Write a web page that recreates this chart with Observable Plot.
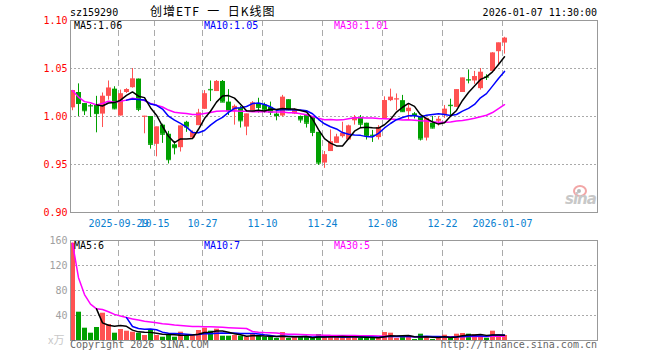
<!DOCTYPE html>
<html><head><meta charset="utf-8">
<script src="https://cdn.jsdelivr.net/npm/d3@7"></script>
<script src="https://cdn.jsdelivr.net/npm/@observablehq/plot@0.6"></script>
<style>
body{margin:0;background:#fff;}
#wrap{position:relative;width:660px;height:360px;overflow:hidden;background:#fff;}
.t{position:absolute;white-space:pre;font-family:"DejaVu Sans Mono",monospace;font-size:10px;line-height:10px;}
#main,#vol{position:absolute;left:0;}
#main{top:0}
#vol{top:230px}
</style></head><body>
<div id="wrap">
 <div id="main"></div><div id="vol"></div>
 <div class="t" style="left:70px;top:8px;color:#000">sz159290</div>
 <div class="t" style="left:150px;top:5px;font-family:'Noto Sans CJK SC';font-size:12px;line-height:12px;letter-spacing:1px;color:#000">创增ETF  一  日K线图</div>
 <div class="t" style="right:63px;top:7.5px;color:#000">2026-01-07 11:30:00</div>
 <div class="t" style="left:74px;top:21px;color:#000">MA5:1.06</div>
 <div class="t" style="left:204px;top:21px;color:#0000ff">MA10:1.05</div>
 <div class="t" style="left:334px;top:21px;color:#ff00ff">MA30:1.01</div>
 <div class="t" style="left:74px;top:240.5px;color:#000">MA5:6</div>
 <div class="t" style="left:204px;top:240.5px;color:#0000ff">MA10:7</div>
 <div class="t" style="left:334px;top:240.5px;color:#ff00ff">MA30:5</div>
 <div class="t" style="left:48px;top:334px;font-family:'Noto Sans CJK SC';font-size:11px;line-height:11px;color:#c8c8c8">x万</div>
 <div class="t" style="left:70px;top:339.5px;color:#666">Copyright 2026 SINA.COM</div>
 <div class="t" style="right:63px;top:339.5px;color:#666">http://finance.sina.com.cn</div>
 <div style="position:absolute;left:573px;top:185px;width:10px;height:8px;border:2px solid #f2a6a6;border-radius:50%;"></div>
 <div style="position:absolute;left:577px;top:189px;width:4px;height:4px;background:#bbb;border-radius:50%;"></div>
 <div class="t" style="left:565px;top:192px;font-family:'DejaVu Sans';font-style:italic;font-weight:bold;font-size:15px;line-height:15px;color:#c8c8c8;letter-spacing:-1px">sina</div>
</div>
<script>
// ---- data ----
const opens  = [1.009,1.025,1.0135,1.0115,1.0115,1.0025,1.021,1.0285,1.0005,1.025,
                1.030,1.039,1.000,1.000,0.971,0.991,0.9815,0.9705,0.9675,0.994,
                0.9775,0.9905,1.0075,1.0282,1.026,1.0365,1.015,1.0065,1.0085,0.989,
                1.006,1.013,1.012,1.0095,1.0025,1.0005,1.0175,1.0025,1.000,1.001,
                0.999,0.9835,0.9515,0.9635,0.972,0.979,0.9755,0.9955,0.999,0.993,
                0.9805,0.978,0.9975,1.0165,1.0177,1.0165,1.005,1.0028,1.000,0.9775,
                0.993,0.995,1.001,1.0117,1.0095,1.025,1.0385,1.037,1.029,1.0413,
                1.047,1.0675,1.0765];
const highs  = [1.027,1.034,1.0135,1.0125,1.021,1.0245,1.037,1.031,1.0275,1.029,
                1.050,1.039,1.0002,1.000,0.989,0.992,0.9845,0.974,0.990,0.995,
                0.985,1.0075,1.027,1.037,1.0375,1.0375,1.028,1.012,1.0105,1.0025,
                1.0155,1.019,1.014,1.015,1.005,1.022,1.0175,1.008,1.0005,1.001,
                0.999,0.9835,0.9635,0.986,0.9815,0.994,0.991,1.001,1.001,0.993,
                0.9855,0.9905,1.0205,1.0285,1.0235,1.022,1.013,1.0042,1.000,0.998,
                1.000,1.000,1.0115,1.018,1.0278,1.040,1.0485,1.047,1.050,1.0435,
                1.0665,1.0765,1.0825];
const lows   = [1.006,1.000,1.001,0.999,0.983,0.9885,1.017,1.007,1.0005,1.024,
                1.0295,1.005,0.982,0.966,0.958,0.972,0.9505,0.960,0.963,0.9835,
                0.977,0.9905,1.0075,1.0155,1.026,1.0145,1.001,0.991,0.988,0.980,
                1.006,1.0035,1.0035,1.001,0.9955,0.9995,1.006,1.002,0.993,0.988,
                0.979,0.949,0.946,0.9635,0.972,0.9775,0.9755,0.991,0.988,0.9755,
                0.973,0.9755,0.9975,1.0155,1.006,1.0045,0.9965,0.9975,0.9745,0.9745,
                0.987,0.990,0.998,1.001,1.0095,1.025,1.034,1.0335,1.0275,1.0375,
                1.046,1.0545,1.065];
const closes = [1.027,1.0135,1.006,1.011,1.003,1.021,1.0295,1.008,1.0235,1.028,
                1.039,1.0075,1.0002,0.971,0.989,0.9815,0.955,0.9675,0.990,0.989,
                0.9835,1.0035,1.0235,1.0278,1.0365,1.015,1.006,1.0105,0.9955,1.0025,
                1.014,1.0095,1.007,1.0045,1.001,1.020,1.007,1.007,0.9965,0.993,
                0.9835,0.9515,0.960,0.9735,0.9785,0.9825,0.990,0.999,0.992,0.980,
                0.980,0.9885,1.0165,1.020,1.0182,1.005,1.0085,1.001,0.9765,0.998,
                0.988,0.997,1.0075,1.0113,1.0278,1.040,1.038,1.0415,1.046,1.041,
                1.066,1.0765,1.0815];
const volumes = [155.7,45.3,19.7,11.7,20.8,43.7,25.6,11.7,17.6,14.9,
                 13.3,11.7,8,17.1,8,5.3,9.6,5.3,13.3,7.5,
                 7.5,16,19.7,14.9,18.1,6.9,6.9,8,6.9,5.6,
                 10.7,6.9,5.3,5.3,3.2,12.8,3.2,5,5.3,5.3,
                 3.2,9.6,5.3,6,5.3,5.3,7.5,5.3,3.7,3.7,
                 3.7,5.3,12.8,11.7,3.2,5.3,7.5,1.6,10.1,5.3,
                 1.6,4.8,8.5,3.7,10.1,11.2,10.1,9.1,6.9,3.7,
                 14.9,8.5,8];
const tickIndex  = [8,14,22,32,42,52,62,72];
const tickLabels = ["2025-09-29","10-15","10-27","11-10","11-24","12-08","12-22","2026-01-07"];
const priceTicks = [0.90,0.95,1.00,1.05,1.10];
const priceGrid  = [0.95,1.00,1.05];
const volTicks   = [40,80,120,160];
const volGrid    = [40,80,120];

// ---- styling ----
const RED = "#ff5252", GREEN = "#00a000";
const GRID = "#aaaaaa", FRAME = "#999999";
const xDomain = [-1/3, 87.5];

function movingAvg(arr, n, partial) {
  return arr.map((_, i) => {
    if (i < n - 1 && !partial) return NaN;
    return d3.mean(arr.slice(Math.max(0, i - n + 1), i + 1));
  });
}
const pMA5 = movingAvg(closes, 5, false), pMA10 = movingAvg(closes, 10, false), pMA30 = movingAvg(closes, 30, true);
const vMA5 = movingAvg(volumes, 5, false), vMA10 = movingAvg(volumes, 10, false), vMA30 = movingAvg(volumes, 30, true);

const rows = opens.map((o, i) => ({
  i, o, h: highs[i], l: lows[i], c: closes[i], v: volumes[i],
  col: closes[i] >= o ? RED : GREEN,
  m5: pMA5[i], m10: pMA10[i], m30: pMA30[i],
  v5: vMA5[i], v10: vMA10[i], v30: vMA30[i]
}));
const labelOf = new Map(tickIndex.map((t, k) => [t, tickLabels[k]]));
const font = {fontFamily: "DejaVu Sans Mono", fontSize: "10px", background: "transparent", overflow: "visible"};

const main = Plot.plot({
  width: 660, height: 230, marginLeft: 70, marginRight: 63, marginTop: 20, marginBottom: 18,
  style: font,
  x: {type: "linear", domain: xDomain, label: null},
  y: {domain: [0.90, 1.10], label: null},
  color: {type: "identity"},
  marks: [
    Plot.ruleY(priceGrid, {stroke: GRID, strokeDasharray: "2,2"}),
    Plot.ruleX(tickIndex, {dx: -2, stroke: GRID, strokeDasharray: "6,4"}),
    Plot.ruleX(rows, {x: "i", y1: "l", y2: "h", stroke: "col"}),
    Plot.ruleX(rows, {x: "i", y1: "o", y2: "c", stroke: "col", strokeWidth: 5}),
    Plot.ruleY(rows, {y: "c", x1: d => d.i - 1/3, x2: d => d.i + 0.5, stroke: "col"}),
    Plot.line(rows, {x: "i", y: "m30", stroke: "#ff00ff"}),
    Plot.line(rows, {x: "i", y: "m10", stroke: "#0000ff"}),
    Plot.line(rows, {x: "i", y: "m5", stroke: "#000000"}),
    Plot.frame({stroke: FRAME}),
    Plot.axisY({ticks: priceTicks, tickFormat: d => d.toFixed(2), tickSize: 0, tickPadding: 3, fill: "#ff0000", label: null}),
    Plot.axisX({ticks: tickIndex, tickFormat: i => labelOf.get(i), tickSize: 0, tickPadding: 7, dx: -2, fill: "#0a80d0", label: null})
  ]
});
document.getElementById("main").appendChild(main);

const vol = Plot.plot({
  width: 660, height: 130, marginLeft: 70, marginRight: 63, marginTop: 10, marginBottom: 20,
  style: font,
  x: {type: "linear", domain: xDomain, label: null},
  y: {domain: [0, 160], label: null},
  color: {type: "identity"},
  marks: [
    Plot.ruleY(volGrid, {stroke: GRID, strokeDasharray: "2,2"}),
    Plot.ruleX(tickIndex, {dx: -2, stroke: GRID, strokeDasharray: "6,4"}),
    Plot.ruleX(rows, {x: "i", y1: 0, y2: "v", stroke: "col", strokeWidth: 5}),
    Plot.line(rows, {x: "i", y: "v30", stroke: "#ff00ff"}),
    Plot.line(rows, {x: "i", y: "v10", stroke: "#0000ff"}),
    Plot.line(rows, {x: "i", y: "v5", stroke: "#000000"}),
    Plot.frame({stroke: FRAME}),
    Plot.axisY({ticks: volTicks, tickSize: 0, tickPadding: 3, fill: "#a0a0a0", label: null}),
    Plot.axisX({ticks: [], tickSize: 0, label: null})
  ]
});
document.getElementById("vol").appendChild(vol);
</script>
</body></html>
